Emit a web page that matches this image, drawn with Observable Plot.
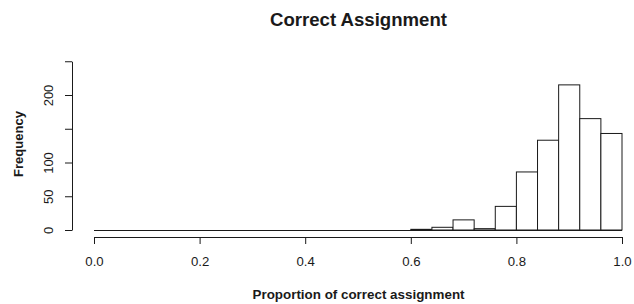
<!DOCTYPE html>
<html>
<head>
<meta charset="utf-8">
<script src="https://cdn.jsdelivr.net/npm/d3@7"></script>
<script src="https://cdn.jsdelivr.net/npm/@observablehq/plot@0.6"></script>
<style>
  html, body { margin: 0; padding: 0; background: #fff; }
  #chart svg { display: block; }
</style>
</head>
<body>
<div id="chart"></div>
<script>
// Histogram bins (lower / upper edges) and frequencies
const binLo = [0.00,0.04,0.08,0.12,0.16,0.20,0.24,0.28,0.32,0.36,0.40,0.44,0.48,0.52,0.56,0.60,0.64,0.68,0.72,0.76,0.80,0.84,0.88,0.92,0.96];
const binHi = [0.04,0.08,0.12,0.16,0.20,0.24,0.28,0.32,0.36,0.40,0.44,0.48,0.52,0.56,0.60,0.64,0.68,0.72,0.76,0.80,0.84,0.88,0.92,0.96,1.00];
const counts = [0,0,0,0,0,0,0,0,0,0,0,0,0,0,0,1,4,15,2,35,86,133,215,165,143];

const xDomain = [0, 1];
const yDomain = [0, 250];
const xTicks = [0, 0.2, 0.4, 0.6, 0.8, 1.0];
const xTickLabels = ["0.0", "0.2", "0.4", "0.6", "0.8", "1.0"];
const yTicks = [0, 50, 100, 150, 200, 250];
const yTickLabels = [0, 50, 100, 200];

const titleText = "Correct Assignment";
const xLabel = "Proportion of correct assignment";
const yLabel = "Frequency";

const bins = binLo.map((lo, i) => ({x1: lo, x2: binHi[i], count: counts[i]}));
const xMid = (xDomain[0] + xDomain[1]) / 2;
const ink = "#1a1a1a";
const font = "'Liberation Sans', Arial, Helvetica, sans-serif";

const plot = Plot.plot({
  width: 634,
  height: 304,
  marginLeft: 72,
  marginRight: 12,
  marginTop: 50,
  marginBottom: 67,
  style: {fontFamily: font, fontSize: "13px", background: "#fff", color: ink, overflow: "visible"},
  x: {domain: xDomain, range: [94, 622]},
  y: {domain: yDomain, range: [230, 61.25]},
  marks: [
    Plot.rectY(bins, {x1: "x1", x2: "x2", y: "count", fill: "#fff", stroke: ink, strokeWidth: 1}),
    Plot.ruleY([0], {x1: binLo[0], x2: binHi[binHi.length - 1], stroke: ink, strokeWidth: 1}),
    Plot.axisX({ticks: xTicks, tickSize: 7, tickPadding: 12, tickFormat: (d, i) => xTickLabels[i], fontSize: 13.2, label: null}),
    Plot.axisY({ticks: yTicks, tickSize: 7, tickFormat: () => "", label: null}),
    Plot.text(yTickLabels, {y: d => d, text: d => String(d), frameAnchor: "left", dx: -24, rotate: -90,
      textAnchor: "middle", lineAnchor: "middle", fontSize: 13, fill: ink}),
    Plot.text([yLabel], {frameAnchor: "left", dx: -54, rotate: -90, textAnchor: "middle", lineAnchor: "middle",
      fontSize: 13, fontWeight: "bold", fill: ink}),
    Plot.text([xLabel], {x: () => xMid, frameAnchor: "bottom", dy: 57.5, textAnchor: "middle", lineAnchor: "middle",
      fontSize: 13.4, fontWeight: "bold", fill: ink}),
    Plot.text([titleText], {x: () => xMid, frameAnchor: "top", dy: -30.8, textAnchor: "middle", lineAnchor: "middle",
      fontSize: 18.6, fontWeight: "bold", fill: ink})
  ]
});

// R-style axis lines spanning the tick range, computed from Plot's scales
const sx = plot.scale("x"), sy = plot.scale("y");
const svg = d3.select(plot);
const xAxisY = 304 - 67 + 0.5;
const yAxisX = 72 + 0.5;
svg.append("line")
  .attr("x1", sx.apply(xTicks[0]) + 0.5).attr("x2", sx.apply(xTicks[xTicks.length - 1]) + 0.5)
  .attr("y1", xAxisY).attr("y2", xAxisY)
  .attr("stroke", ink).attr("stroke-width", 1);
svg.append("line")
  .attr("x1", yAxisX).attr("x2", yAxisX)
  .attr("y1", sy.apply(yTicks[0]) + 0.5).attr("y2", sy.apply(yTicks[yTicks.length - 1]) + 0.5)
  .attr("stroke", ink).attr("stroke-width", 1);

document.getElementById("chart").appendChild(plot);
</script>
</body>
</html>
